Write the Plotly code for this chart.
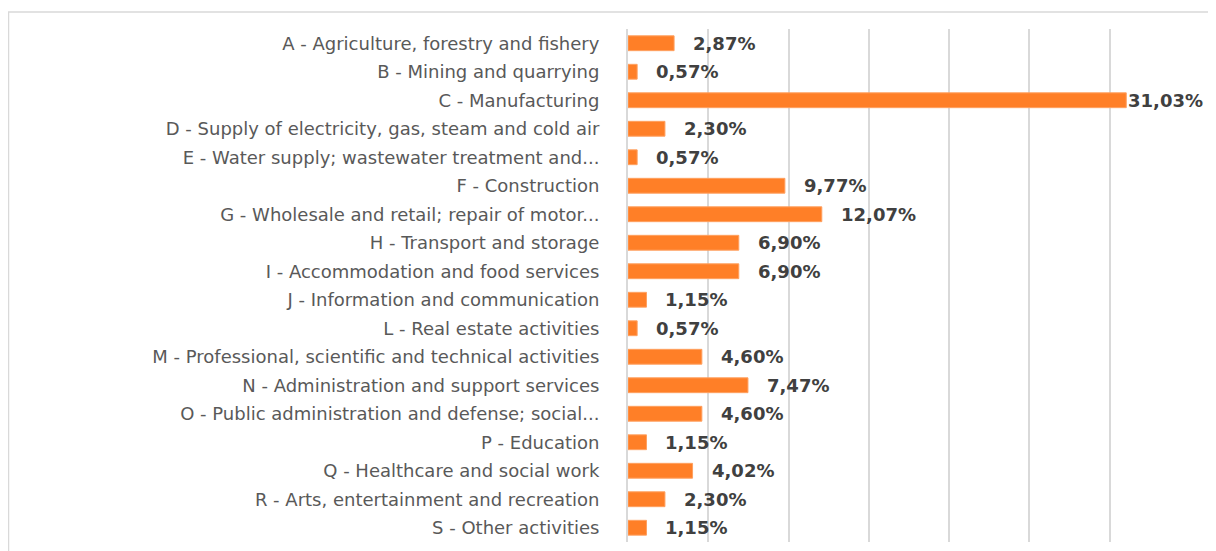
import plotly.graph_objects as go

categories = [
    "A - Agriculture, forestry and fishery",
    "B - Mining and quarrying",
    "C - Manufacturing",
    "D - Supply of electricity, gas, steam and cold air",
    "E - Water supply; wastewater treatment and...",
    "F - Construction",
    "G - Wholesale and retail; repair of motor...",
    "H - Transport and storage",
    "I - Accommodation and food services",
    "J - Information and communication",
    "L - Real estate activities",
    "M - Professional, scientific and technical activities",
    "N - Administration and support services",
    "O - Public administration and defense; social...",
    "P - Education",
    "Q - Healthcare and social work",
    "R - Arts, entertainment and recreation",
    "S - Other activities",
]
values = [2.87, 0.57, 31.03, 2.30, 0.57, 9.77, 12.07, 6.90, 6.90, 1.15,
          0.57, 4.60, 7.47, 4.60, 1.15, 4.02, 2.30, 1.15]
labels = [f"{v:.2f}%".replace(".", ",") for v in values]

# page has an 8px body margin; figure is sized to fill the rest of the window
OFF = 8
W, H = 1216 - OFF, 551 - OFF
L, R, T, B = 628 - OFF, 26, 29 - OFF, 9
pw, ph = W - L - R, H - T - B

fig = go.Figure()
fig.add_trace(go.Bar(
    y=categories, x=values, orientation="h",
    marker=dict(color="#FF7F27", line=dict(color="#FFA060", width=1)),
    width=0.52, hoverinfo="skip",
))

ann = []
for c, v, t in zip(categories, values, labels):
    shift = 17 if v < 30 else 0
    ann.append(dict(x=v, y=c, xref="x", yref="y", text=t, showarrow=False,
                    xanchor="left", yanchor="middle", xshift=shift,
                    font=dict(family="DejaVu Sans", size=18, color="#404040", weight="bold")))

fig.update_layout(
    width=W, height=H,
    margin=dict(l=L, r=R, t=T, b=B, pad=0),
    paper_bgcolor="white", plot_bgcolor="white",
    showlegend=False,
    annotations=ann,
    shapes=[dict(type="rect", xref="paper", yref="paper",
                 x0=(0.5 - L) / pw, x1=(W + 20 - L) / pw,
                 y0=-(B + 20) / ph, y1=1 + (T - 4) / ph,
                 line=dict(color="#D9D9D9", width=1.5), layer="below")],
    xaxis=dict(range=[0, 35], dtick=5, showticklabels=False, showgrid=True,
               gridcolor="#D9D9D9", gridwidth=2, zeroline=False,
               showline=False, fixedrange=True),
    yaxis=dict(autorange="reversed", showline=True, linecolor="#D9D9D9", linewidth=2,
               ticks="", ticklabelstandoff=23,
               tickfont=dict(family="DejaVu Sans", size=18, color="#595959"),
               showgrid=False),
)

fig.write_html("out.html")
